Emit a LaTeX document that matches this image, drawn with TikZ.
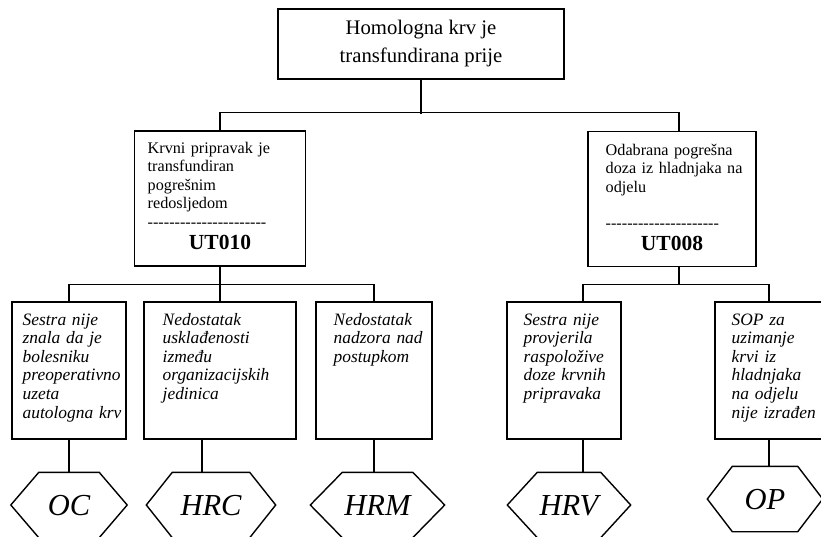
\documentclass[tikz,border=0pt]{standalone}
\usepackage{fontspec}
\setmainfont{Liberation Serif}
\newcount\dashcnt
\newcommand\dashrow[1]{\dashcnt=0\relax\loop\ifnum\dashcnt<#1 -\kern0pt\advance\dashcnt by 1\relax\repeat}
\begin{document}
\begin{tikzpicture}[x=1pt,y=-1pt,line width=1.4pt,
  box/.style={draw,rectangle,inner sep=0pt},
  lvtwo/.style={box,minimum height=135pt},
  lvthree/.style={box,minimum height=137pt},
  midtext/.style={anchor=base west,inner sep=0pt,text width=160pt,align=left,
    font=\fontsize{16.2}{18.5}\selectfont},
  code/.style={anchor=base,inner sep=0pt,font=\fontsize{21.5}{24}\selectfont\bfseries},
  causetext/.style={anchor=base west,inner sep=0pt,text width=150pt,align=left,
    font=\fontsize{17.4}{18.6}\selectfont\itshape},
  hexnode/.style={rectangle,inner sep=0pt,minimum height=64pt,text height=20pt,text depth=0pt,
    font=\fontsize{30.5}{33}\selectfont\itshape},
  hexline/.style={line join=miter}]
\useasboundingbox (0,0) rectangle (821,536);

% top box
\node[box,minimum width=286pt,minimum height=70pt,align=center,
  font=\fontsize{20.7}{28}\selectfont] (top) at (421,44) {Homologna krv je\\transfundirana prije};

% level 2
\node[lvtwo,minimum width=171pt] (b1) at (220,198.5) {};
\node[lvtwo,minimum width=168pt] (b2) at (672,199) {};
\node[midtext] (b1t) at (147,153) {Krvni pripravak je\\transfundiran\\pogrešnim\\redosljedom\\\dashrow{22}};
\node[code] (b1c) at (b1.center |- 0,249) {UT010};
\node[midtext] (b2t) at (605,155) {Odabrana pogrešna\\doza iz hladnjaka na\\odjelu\\[18pt]\dashrow{21}};
\node[code] (b2c) at (b2.center |- 0,250) {UT008};

% level 3
\node[lvthree,minimum width=114pt] (c1) at (69,370.5) {};
\node[lvthree,minimum width=152pt] (c2) at (220,370.5) {};
\node[lvthree,minimum width=116pt] (c3) at (374,370.5) {};
\node[lvthree,minimum width=114pt] (c4) at (564,370.5) {};
\node[lvthree,minimum width=108pt] (c5) at (769,370.5) {};
\node[causetext] (c1t) at (22,325) {Sestra nije\\znala da je\\bolesniku\\preoperativno\\uzeta\\autologna krv};
\node[causetext] (c2t) at (162,325) {Nedostatak\\usklađenosti\\između\\organizacijskih\\jedinica};
\node[causetext] (c3t) at (333,325) {Nedostatak\\nadzora nad\\postupkom};
\node[causetext] (c4t) at (523,325) {Sestra nije\\provjerila\\raspoložive\\doze krvnih\\pripravaka};
\node[causetext] (c5t) at (731,325) {SOP za\\uzimanje\\krvi iz\\hladnjaka\\na odjelu\\nije izrađen};

% hexagons
\node[hexnode,minimum width=115pt] (h1) at (69,505) {OC};
\node[hexnode,minimum width=128pt] (h2) at (211,505) {HRC};
\node[hexnode,minimum width=133pt] (h3) at (377.5,505) {HRM};
\node[hexnode,minimum width=122pt] (h4) at (569,505) {HRV};
\node[hexnode,minimum width=114pt] (h5) at (765,499) {OP};
\foreach \h/\s in {h1/28,h2/26,h3/32,h4/30,h5/25}{
  \draw[hexline] (\h.west) -- ([xshift=\s pt]\h.north west) -- ([xshift=-\s pt]\h.north east)
    -- (\h.east) -- ([xshift=-\s pt]\h.south east) -- ([xshift=\s pt]\h.south west) -- cycle;
}

% connectors
\draw (top.south) -- ++(0,34);
\draw (b1.north) -- ++(0,-18) -| ([xshift=7pt]b2.north);
\draw (b1.south) -- (c2.north);
\draw (c1.north) -- ++(0,-17) -| (c3.north);
\draw ([xshift=7pt]b2.south) -- ++(0,18);
\draw ([xshift=19pt]c4.north) -- ++(0,-17) -| (c5.north);
\draw (c1.south) -- (h1.north);
\draw ([xshift=-18pt]c2.south) -- ([xshift=-9pt]h2.north);
\draw (c3.south) -- ([xshift=-3.5pt]h3.north);
\draw ([xshift=19pt]c4.south) -- ([xshift=14pt]h4.north);
\draw (c5.south) -- ([xshift=4pt]h5.north);
\end{tikzpicture}
\end{document}
